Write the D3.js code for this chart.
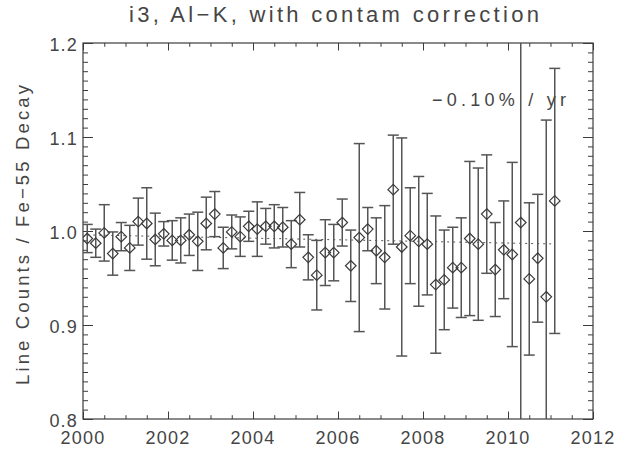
<!DOCTYPE html>
<html>
<head>
<meta charset="utf-8">
<script src="https://cdn.jsdelivr.net/npm/d3@7"></script>
<style>
  html, body { margin: 0; padding: 0; background: #fff; }
  svg { display: block; }
  text { font-family: "Liberation Sans", "DejaVu Sans", sans-serif; fill: #454545; }
</style>
</head>
<body>
<svg id="chart" width="621" height="455"></svg>
<script>
// ---- data ----
const titleText = "i3, Al\u2212K, with contam correction";
const yTitle = "Line Counts / Fe\u221255 Decay";
const slopeLabel = "\u22120.10% / yr";

const years = [
  2000.1, 2000.3, 2000.5, 2000.7, 2000.9, 2001.1, 2001.3, 2001.5, 2001.7, 2001.9,
  2002.1, 2002.3, 2002.5, 2002.7, 2002.9, 2003.1, 2003.3, 2003.5, 2003.7, 2003.9,
  2004.1, 2004.3, 2004.5, 2004.7, 2004.9, 2005.1, 2005.3, 2005.5, 2005.7, 2005.9,
  2006.1, 2006.3, 2006.5, 2006.7, 2006.9, 2007.1, 2007.3, 2007.5, 2007.7, 2007.9,
  2008.1, 2008.3, 2008.5, 2008.7, 2008.9, 2009.1, 2009.3, 2009.5, 2009.7, 2009.9,
  2010.1, 2010.3, 2010.5, 2010.7, 2010.9, 2011.1
];
const values = [
  0.992, 0.987, 0.998, 0.976, 0.994, 0.982, 1.010, 1.008, 0.991, 0.997,
  0.990, 0.990, 0.996, 0.989, 1.008, 1.018, 0.982, 0.999, 0.994, 1.005,
  1.002, 1.005, 1.005, 1.004, 0.986, 1.012, 0.972, 0.953, 0.977, 0.977,
  1.009, 0.963, 0.993, 1.002, 0.979, 0.972, 1.044, 0.983, 0.995, 0.989,
  0.986, 0.943, 0.948, 0.961, 0.961, 0.992, 0.986, 1.018, 0.959, 0.980,
  0.975, 1.009, 0.949, 0.971, 0.930, 1.032
];
const errors = [
  0.015, 0.015, 0.030, 0.023, 0.015, 0.024, 0.025, 0.038, 0.028, 0.013,
  0.021, 0.024, 0.022, 0.031, 0.028, 0.024, 0.022, 0.018, 0.021, 0.016,
  0.029, 0.019, 0.023, 0.021, 0.025, 0.029, 0.024, 0.037, 0.035, 0.030,
  0.025, 0.038, 0.100, 0.023, 0.035, 0.055, 0.058, 0.116, 0.051, 0.069,
  0.054, 0.073, 0.053, 0.043, 0.053, 0.082, 0.081, 0.063, 0.050, 0.052,
  0.098, 0.300, 0.081, 0.068, 0.188, 0.141
];
const fitYears = [2000.1, 2011.1];
const fitValues = [0.9958, 0.9862];

const xTicks = [2000, 2002, 2004, 2006, 2008, 2010, 2012];
const yTicks = [0.8, 0.9, 1.0, 1.1, 1.2];

// ---- layout ----
const svg = d3.select("#chart");
const L = 83, R = 593, T = 43, B = 419;
const x = d3.scaleLinear().domain([2000, 2012]).range([L, R]);
const y = d3.scaleLinear().domain([0.8, 1.2]).range([B, T]);
const ink = "#3c3c3c";

svg.append("defs").append("clipPath").attr("id", "clip")
  .append("rect").attr("x", L).attr("y", T).attr("width", R - L).attr("height", B - T);

// title
svg.append("text").attr("x", 334).attr("y", 22)
  .attr("text-anchor", "middle").attr("font-size", 22)
  .attr("textLength", 410).attr("lengthAdjust", "spacing")
  .text(titleText);

// y axis title
svg.append("text")
  .attr("transform", `translate(29, ${(T + B) / 2 + 4}) rotate(-90)`)
  .attr("text-anchor", "middle").attr("font-size", 18.5)
  .attr("textLength", 300).attr("lengthAdjust", "spacing")
  .text(yTitle);

// axes (ticks inward, on all four sides)
const xMajLen = 7.5, xMinLen = 3.8, yMajLen = 10, yMinLen = 5;
const xVals = d3.range(0, 25).map(k => 2000 + k * 0.5);
const xBottom = svg.append("g").attr("transform", `translate(0,${B})`)
  .call(d3.axisBottom(x).tickValues(xVals).tickSizeInner(0).tickSizeOuter(0).tickFormat(""));
const xTop = svg.append("g").attr("transform", `translate(0,${T})`)
  .call(d3.axisTop(x).tickValues(xVals).tickSizeInner(0).tickSizeOuter(0).tickFormat(""));
[xBottom, xTop].forEach((g, i) => {
  g.select(".domain").remove();
  g.selectAll(".tick line")
    .attr("stroke", ink).attr("stroke-width", 1)
    .attr("y2", d => {
      const major = Math.abs(d / 2 - Math.round(d / 2)) < 1e-6;
      const len = major ? xMajLen : xMinLen;
      return i === 0 ? -len : len;
    });
});
const yVals = d3.range(0, 41).map(k => 0.8 + k * 0.01);
const yLeft = svg.append("g").attr("transform", `translate(${L},0)`)
  .call(d3.axisLeft(y).tickValues(yVals).tickSizeInner(0).tickSizeOuter(0).tickFormat(""));
const yRight = svg.append("g").attr("transform", `translate(${R},0)`)
  .call(d3.axisRight(y).tickValues(yVals).tickSizeInner(0).tickSizeOuter(0).tickFormat(""));
[yLeft, yRight].forEach((g, i) => {
  g.select(".domain").remove();
  g.selectAll(".tick line")
    .attr("stroke", ink).attr("stroke-width", 1)
    .attr("x2", d => {
      const major = Math.abs(d * 10 - Math.round(d * 10)) < 1e-6;
      const len = major ? yMajLen : yMinLen;
      return i === 0 ? len : -len;
    });
});

// frame
svg.append("rect").attr("x", L).attr("y", T).attr("width", R - L).attr("height", B - T)
  .attr("fill", "none").attr("stroke", ink).attr("stroke-width", 1.2);

// tick labels
svg.append("g").selectAll("text").data(xTicks).join("text")
  .attr("x", d => x(d)).attr("y", B + 25)
  .attr("text-anchor", "middle").attr("font-size", 18).attr("letter-spacing", 1.2)
  .text(d => d);
svg.append("g").selectAll("text").data(yTicks).join("text")
  .attr("x", L - 5).attr("y", d => y(d) + 8)
  .attr("text-anchor", "end").attr("font-size", 18).attr("letter-spacing", 1.2)
  .text(d => d3.format(".1f")(d));

// plot content
const plot = svg.append("g").attr("clip-path", "url(#clip)");

// fit line
plot.append("line")
  .attr("x1", x(fitYears[0])).attr("y1", y(fitValues[0]))
  .attr("x2", x(fitYears[1])).attr("y2", y(fitValues[1]))
  .attr("stroke", "#555").attr("stroke-width", 1).attr("stroke-dasharray", "2,4");

const pts = years.map((t, i) => ({ t, v: values[i], e: errors[i] }));
const capW = 5.5;
const bars = plot.append("g").selectAll("g").data(pts).join("g")
  .attr("stroke", "#555").attr("stroke-width", 1.5).attr("fill", "none");
bars.append("line")
  .attr("x1", d => x(d.t)).attr("x2", d => x(d.t))
  .attr("y1", d => y(d.v + d.e)).attr("y2", d => y(d.v - d.e));
bars.append("line")
  .attr("x1", d => x(d.t) - capW).attr("x2", d => x(d.t) + capW)
  .attr("y1", d => y(d.v + d.e)).attr("y2", d => y(d.v + d.e));
bars.append("line")
  .attr("x1", d => x(d.t) - capW).attr("x2", d => x(d.t) + capW)
  .attr("y1", d => y(d.v - d.e)).attr("y2", d => y(d.v - d.e));

// diamonds
const dS = 5.3;
plot.append("g").selectAll("path").data(pts).join("path")
  .attr("d", d => {
    const cx = x(d.t), cy = y(d.v);
    return `M${cx},${cy - dS}L${cx + dS},${cy}L${cx},${cy + dS}L${cx - dS},${cy}Z`;
  })
  .attr("fill", "none").attr("stroke", "#3a3a3a").attr("stroke-width", 1.2);

// slope annotation
svg.append("text").attr("x", 432).attr("y", 106)
  .attr("font-size", 18).attr("textLength", 134).attr("lengthAdjust", "spacing")
  .text(slopeLabel);
</script>
</body>
</html>
